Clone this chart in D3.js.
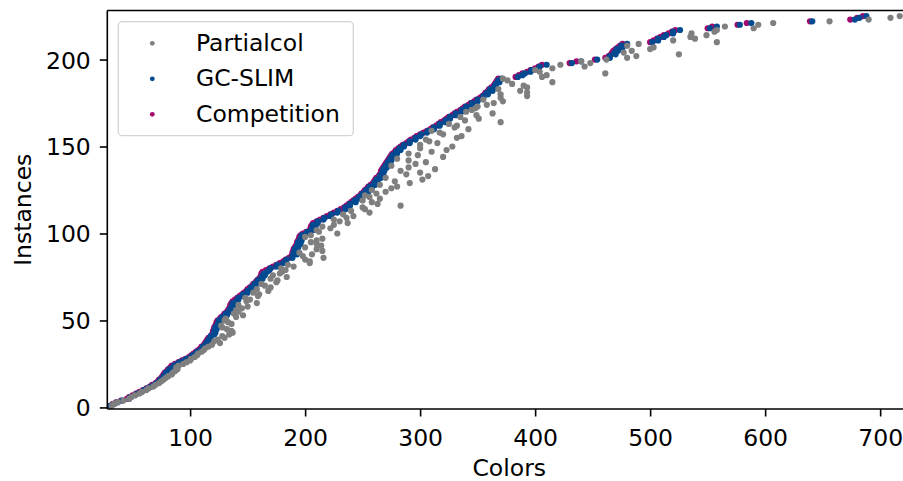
<!DOCTYPE html>
<html>
<head>
<meta charset="utf-8">
<script src="https://cdn.jsdelivr.net/npm/d3@7"></script>
<style>
  html, body { margin: 0; padding: 0; background: #fff; }
  svg { display: block; font-family: "DejaVu Sans", sans-serif; }
</style>
</head>
<body>
<svg id="chart" width="903" height="481"></svg>
<script>
// Number of colors per instance (instances ranked 1..225)
const competition = [
  31,33,36,40,45,47,50,53,56,
  59,62,65,67,70,
  72,73,75,76,77,78,
  80,81,83,84,
  87,90,93,96,
  99,101,103,105,107,
  109,110,112,113,
  114,115,116,118,119,
  120,120,121,121,122,123,123,124,
  126,127,129,130,132,133,
  134,135,135,136,137,
  139,141,143,145,147,149,150,152,
  154,155,157,158,160,161,
  162,162,163,
  166,169,172,175,178,
  181,183,186,188,190,
  189,190,190,191,
  192,193,193,194,195,195,196,
  198,201,204,
  205,205,206,207,
  210,213,216,219,
  222,225,228,
  231,234,236,
  238,240,242,244,246,248,
  249,251,252,254,255,257,259,
  260,261,262,264,265,
  266,266,267,268,269,270,271,272,273,274,
  275,276,278,279,281,283,
  285,288,290,292,295,297,
  300,303,306,309,
  311,314,316,318,321,323,
  325,328,330,332,335,337,
  339,342,344,347,349,352,
  354,356,357,359,360,362,364,
  365,366,367,368,
  383,386,389,393,396,
  400,403,406,
  430,436,452,461,
  464,466,467,468,
  470,472,474,476,
  500,503,506,509,
  512,516,519,522,
  550,554,
  576,584,639,674,680,685
];

const gcslim = [
  31,34,37,41,47,48,52,54,58,
  60,63,66,69,71,
  74,74,77,77,80,79,
  82,82,85,86,
  89,91,95,97,
  101,102,105,106,109,
  111,111,114,114,
  116,116,118,118,121,
  122,121,123,122,125,124,126,125,
  129,128,132,131,135,134,
  137,136,138,137,140,
  142,142,146,146,150,150,153,153,
  157,156,160,159,163,162,
  165,164,167,
  169,170,175,176,181,
  183,184,189,189,193,
  190,193,191,194,
  193,196,194,197,196,199,197,
  201,202,207,
  206,209,207,211,
  211,216,217,222,
  223,228,229,
  235,235,239,
  239,244,243,248,247,252,
  250,255,253,258,256,261,260,
  263,262,266,265,268,
  267,269,268,271,270,273,272,275,274,277,
  276,280,279,283,282,286,
  286,291,291,296,296,300,
  301,306,307,312,
  312,317,317,322,322,326,
  326,331,331,336,336,340,
  340,345,345,350,350,355,
  355,359,358,363,361,366,365,
  366,369,368,371,
  385,389,391,396,397,
  403,404,410,
  432,440,454,465,
  465,470,469,472,
  471,476,475,480,
  502,507,507,512,
  514,520,520,526,
  552,558,
  578,588,641,678,682,688
];

const partialcol = [
  32,34,37,42,47,49,52,56,58,
  62,64,68,70,73,
  75,77,79,81,84,85,
  87,89,88,90,
  94,97,100,101,
  104,106,107,110,112,
  113,116,119,126,
  121,124,130,128,134,
  137,136,132,128,127,136,133,130,
  131,140,146,138,142,140,
  145,150,142,158,149,
  152,148,159,160,155,168,158,170,
  165,162,175,176,170,184,
  172,178,180,
  183,179,190,185,204,
  204,200,216,198,206,
  195,215,210,200,
  214,210,205,210,215,200,205,
  228,212,210,
  222,215,225,237,
  230,225,236,242,
  233,256,240,
  252,250,283,
  263,258,250,265,256,252,
  262,270,258,275,280,265,291,
  278,302,270,307,288,
  300,283,313,290,275,296,305,290,280,320,
  298,290,310,323,300,328,
  300,315,308,305,332,336,
  320,317,310,342,
  330,332,325,370,339,351,
  335,349,363,340,345,348,
  350,358,364,372,355,370,
  393,370,393,387,368,393,390,
  380,415,376,372,
  406,410,461,404,400,
  415,443,422,
  448,440,462,480,
  488,525,477,484,
  500,503,480,490,
  558,520,539,535,
  549,536,556,558,
  590,565,
  594,607,656,690,709,717
];

const instances = competition.map((_, i) => i + 1);

const seriesNames = ["Partialcol", "GC-SLIM", "Competition"];
const seriesColors = ["#7f7f7f", "#004a91", "#a10a6e"];
const xTicks = [100, 200, 300, 400, 500, 600, 700];
const yTicks = [0, 50, 100, 150, 200];

const svg = d3.select("#chart");
const mLeft = 107.3, mRight = 911.2, mTop = 10.5, mBottom = 409;

const x = d3.scaleLinear().domain([28, 727]).range([mLeft, mRight]);
const y = d3.scaleLinear().domain([-0.9, 228.2]).range([mBottom, mTop]);

const fontSize = 23.5;

// Points: draw Competition, then GC-SLIM, then Partialcol on top
const drawOrder = [
  { vals: competition, color: seriesColors[2] },
  { vals: gcslim, color: seriesColors[1] },
  { vals: partialcol, color: seriesColors[0] }
];
const pts = svg.append("g");
drawOrder.forEach(s => {
  pts.append("g").selectAll("circle")
    .data(s.vals)
    .join("circle")
    .attr("cx", d => x(d))
    .attr("cy", (d, i) => y(instances[i]))
    .attr("r", 3.1)
    .attr("fill", s.color);
});

// Spines
const sw = 1.6;
svg.append("line").attr("x1", mLeft).attr("x2", mLeft).attr("y1", mTop).attr("y2", mBottom)
  .attr("stroke", "#000").attr("stroke-width", sw);
svg.append("line").attr("x1", mLeft).attr("x2", mRight).attr("y1", mBottom).attr("y2", mBottom)
  .attr("stroke", "#000").attr("stroke-width", sw);
svg.append("line").attr("x1", mLeft).attr("x2", mRight).attr("y1", mTop).attr("y2", mTop)
  .attr("stroke", "#000").attr("stroke-width", sw);
svg.append("line").attr("x1", mRight).attr("x2", mRight).attr("y1", mTop).attr("y2", mBottom)
  .attr("stroke", "#000").attr("stroke-width", sw);

// X axis
const xAxis = d3.axisBottom(x).tickValues(xTicks).tickSize(7.5).tickPadding(0).tickFormat(d3.format("d"));
const gx = svg.append("g").attr("transform", `translate(0,${mBottom})`).call(xAxis);
gx.select(".domain").remove();
gx.selectAll(".tick line").attr("stroke", "#000").attr("stroke-width", sw);
gx.selectAll(".tick text")
  .attr("font-size", fontSize).attr("font-family", "DejaVu Sans")
  .attr("fill", "#000").attr("dy", null).attr("y", 37);

// Y axis
const yAxis = d3.axisLeft(y).tickValues(yTicks).tickSize(7.5).tickPadding(0).tickFormat(d3.format("d"));
const gy = svg.append("g").attr("transform", `translate(${mLeft},0)`).call(yAxis);
gy.select(".domain").remove();
gy.selectAll(".tick line").attr("stroke", "#000").attr("stroke-width", sw);
gy.selectAll(".tick text")
  .attr("font-size", fontSize).attr("font-family", "DejaVu Sans")
  .attr("fill", "#000").attr("x", -16.5).attr("dy", "0.36em");

// Axis labels
svg.append("text").attr("x", (mLeft + mRight) / 2).attr("y", 476)
  .attr("text-anchor", "middle").attr("font-size", fontSize).text("Colors");
svg.append("text").attr("transform", `translate(31,${(mTop + mBottom) / 2}) rotate(-90)`)
  .attr("text-anchor", "middle").attr("font-size", fontSize).text("Instances");

// Legend
const lg = svg.append("g");
lg.append("rect").attr("x", 118.3).attr("y", 21.7).attr("width", 235).attr("height", 114)
  .attr("rx", 4).attr("fill", "#fff").attr("fill-opacity", 0.8)
  .attr("stroke", "#d4d4d4").attr("stroke-width", 1.3);
seriesNames.forEach((name, i) => {
  const cy = 43.3 + i * 35.5;
  lg.append("circle").attr("cx", 152.3).attr("cy", cy).attr("r", 2.4).attr("fill", seriesColors[i]);
  lg.append("text").attr("x", 196).attr("y", cy + 7.6).attr("font-size", fontSize).text(name);
});
</script>
</body>
</html>
